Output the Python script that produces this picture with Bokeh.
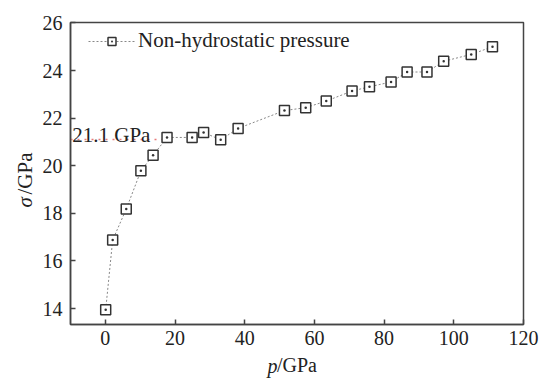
from bokeh.plotting import figure
from bokeh.models import Range1d, Label, Legend, LegendItem, FixedTicker, LinearAxis, Title
from bokeh.embed import file_html
from bokeh.resources import INLINE

p_gpa = [0.1, 2.1, 6.0, 10.2, 13.7, 17.7, 24.9, 28.2, 33.1, 38.1, 51.4, 57.5,
         63.4, 70.8, 75.8, 82.0, 86.6, 92.3, 97.1, 105.0, 111.1]
sigma = [13.95, 16.88, 18.18, 19.79, 20.44, 21.19, 21.19, 21.40, 21.09, 21.57,
         22.32, 22.44, 22.72, 23.14, 23.32, 23.52, 23.94, 23.94, 24.39, 24.68, 25.0]
x_ticks = [0, 20, 40, 60, 80, 100, 120]
y_ticks = [14, 16, 18, 20, 22, 24, 26]
threshold = 21.1
threshold_label = "21.1 GPa"
series_name = "Non-hydrostatic pressure"

FONT = "Liberation Serif"
TXT = "#222222"

p = figure(width=539, height=381, output_backend="svg", toolbar_location=None,
           x_range=Range1d(-10, 120), y_range=Range1d(13.33, 26.02))
p.min_border_left = 70
p.min_border_right = 16
p.min_border_top = 22
p.min_border_bottom = 57
p.grid.visible = False
p.outline_line_color = "#444444"
p.outline_line_width = 1.5
p.background_fill_color = "white"
p.border_fill_color = "white"

for ax in (p.xaxis[0], p.yaxis[0]):
    ax.axis_line_color = "#444444"
    ax.axis_line_width = 1.5
    ax.major_tick_in = 5
    ax.major_tick_out = 0
    ax.major_tick_line_color = "#444444"
    ax.major_tick_line_width = 1.5
    ax.minor_tick_line_color = None
    ax.major_label_text_font = FONT
    ax.major_label_text_font_size = "20px"
    ax.major_label_text_color = TXT
p.xaxis[0].ticker = FixedTicker(ticks=x_ticks)
p.yaxis[0].ticker = FixedTicker(ticks=y_ticks)
p.xaxis[0].major_label_standoff = 6
p.yaxis[0].major_label_standoff = 8

HAS_STANDOFF = "standoff" in Title.properties()


def title_part(kind, text, italic, offset, size, standoff=None):
    kw = dict(text=text, align="left", offset=offset, text_font=FONT,
              text_font_size=size,
              text_font_style="italic" if italic else "normal",
              text_color=TXT)
    if HAS_STANDOFF and standoff is not None:
        kw["standoff"] = standoff
    t = Title(**kw)
    p.add_layout(t, kind)
    return t


def axis_part(kind, text, italic, standoff, size):
    ax = LinearAxis(ticker=FixedTicker(ticks=[]), axis_line_color=None,
                    major_tick_line_color=None, minor_tick_line_color=None,
                    major_tick_in=0, major_tick_out=0, minor_tick_out=0,
                    major_label_standoff=0,
                    axis_label=text, axis_label_text_font=FONT,
                    axis_label_text_font_size=size,
                    axis_label_text_font_style="italic" if italic else "normal",
                    axis_label_text_color=TXT, axis_label_standoff=standoff)
    p.add_layout(ax, kind)
    return ax


# x-axis title "p/GPa" (italic p)
title_part("below", "p", True, 197, "20px")
axis_part("below", "/GPa", False, -28, "20px")
# y-axis title "σ/GPa" (italic sigma)
title_part("left", "σ", True, 117, "21px", 5)
axis_part("left", "/GPa", False, -28, "21px")

# threshold line
p.line([-10, p_gpa[5]], [threshold, threshold], line_color="#e87a7a",
       line_width=1.5, line_dash="2 5")
p.add_layout(Label(x=-9.5, y=21.31, text=threshold_label, text_font=FONT,
                   text_font_size="21px", text_color=TXT,
                   text_baseline="alphabetic"))

ln = p.line(p_gpa, sigma, line_color="#888888", line_width=1, line_dash="2 2")
mk = p.scatter(p_gpa, sigma, marker="square_dot", size=10, fill_color="white",
               line_color="#333333", line_width=1.5)

legend = Legend(items=[LegendItem(label=series_name, renderers=[ln, mk])],
                location=(18, 271), glyph_width=47, glyph_height=20,
                label_height=20, label_standoff=3, padding=0, margin=0,
                border_line_color=None, background_fill_alpha=0,
                label_text_font=FONT, label_text_font_size="21px",
                label_text_color=TXT)
p.add_layout(legend)

open("out.html", "w").write(file_html(p, INLINE))
